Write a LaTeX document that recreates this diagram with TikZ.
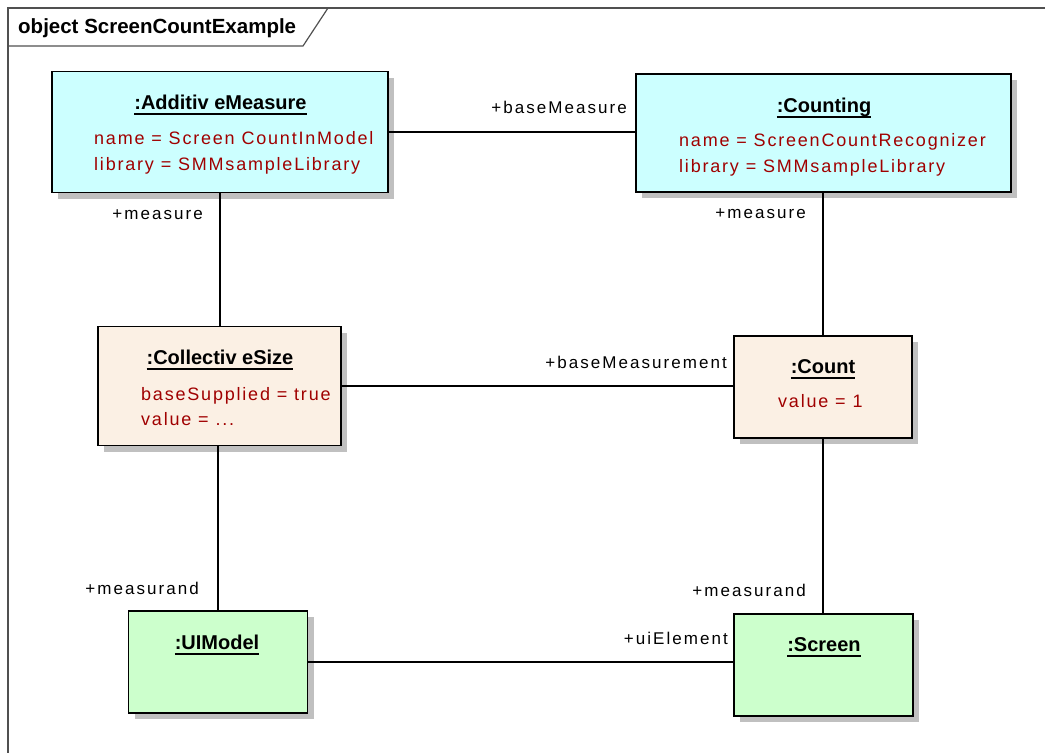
\documentclass[tikz,border=0pt]{standalone}
\usepackage{fontspec}
\setmainfont{Liberation Sans}
\usetikzlibrary{shadows}

\definecolor{objcyan}{HTML}{CCFFFF}
\definecolor{objbeige}{HTML}{FBF0E4}
\definecolor{objgreen}{HTML}{CCFFCC}
\definecolor{shadowgray}{HTML}{C0C0C0}
\definecolor{attrred}{RGB}{160,0,0}
\definecolor{framegray}{HTML}{505050}

% underlined object name, thick rule just below the baseline
\newcommand\objname[1]{\setbox0\hbox{#1}\rlap{\vrule height -3.5pt depth 5.5pt width \wd0}\box0}

\tikzset{
  objbox/.style={draw=black, line width=1.7pt, rectangle, inner sep=0pt,
    drop shadow={shadow xshift=6pt, shadow yshift=-6pt, fill=shadowgray, opacity=1}},
  titletext/.style={font=\fontsize{20}{22}\selectfont\bfseries, inner sep=0pt, anchor=base},
  attrtext/.style={font=\fontsize{18}{20}\selectfont\addfontfeature{LetterSpace=10}, text=attrred, inner sep=0pt, anchor=base west},
  roletext/.style={font=\fontsize{17}{20}\selectfont\addfontfeature{LetterSpace=12}, inner sep=0pt, anchor=base east},
  link/.style={draw=black, line width=1.8pt},
}

\begin{document}
\begin{tikzpicture}[x=1pt, y=-1pt]
\useasboundingbox (0,0) rectangle (1045,753);

% diagram frame with name tab
\draw[framegray, line width=1.5pt] (1045,8) -- (8,8) -- (8,753);
\draw[framegray, line width=1.2pt] (8,46) -- (303,46) -- (328,8);
\node[font=\fontsize{20.5}{22}\selectfont\bfseries, inner sep=0pt, anchor=base west] (frametitle) at (18,33) {object ScreenCountExample};

% object boxes
\node[objbox, fill=objcyan, minimum width=336pt, minimum height=121pt] (am) at (220,132) {};
\node[objbox, fill=objcyan, minimum width=375pt, minimum height=118pt] (ct) at (823.5,133) {};
\node[objbox, fill=objbeige, minimum width=243pt, minimum height=119pt] (cs) at (219.5,386) {};
\node[objbox, fill=objbeige, minimum width=178pt, minimum height=102pt] (cn) at (823,387) {};
\node[objbox, fill=objgreen, minimum width=179pt, minimum height=102pt] (ui) at (218,662) {};
\node[objbox, fill=objgreen, minimum width=179pt, minimum height=102pt] (sc) at (823.5,665) {};

% object names
\node[titletext] (amname) at (220.5,109) {\objname{:Additiv eMeasure}};
\node[titletext] (ctname) at (824,112) {\objname{:Counting}};
\node[titletext] (csname) at (220,364) {\objname{:Collectiv eSize}};
\node[titletext] (cnname) at (823,373) {\objname{:Count}};
\node[titletext] (uiname) at (217,649) {\objname{:UIModel}};
\node[titletext] (scname) at (824,651) {\objname{:Screen}};

% attribute values
\node[attrtext] (amattr1) at (94,144) {name = Screen CountInModel};
\node[attrtext] (amattr2) at (94,170) {library = SMMsampleLibrary};
\node[attrtext] (ctattr1) at (679,146) {name = ScreenCountRecognizer};
\node[attrtext] (ctattr2) at (679,172) {library = SMMsampleLibrary};
\node[attrtext] (csattr1) at (141,400) {baseSupplied = true};
\node[attrtext] (csattr2) at (141,425) {value = ...};
\node[attrtext] (cnattr1) at (778,407) {value = 1};

% links
\draw[link] (am.east) -- (am.east -| ct.west);
\draw[link] (am.south) -- (am.south |- cs.north);
\draw[link] (cn.north |- ct.south) -- (cn.north);
\draw[link] (cs.east) -- (cs.east -| cn.west);
\draw[link] (ui.north |- cs.south) -- (ui.north);
\draw[link] (cn.south) -- (cn.south |- sc.north);
\draw[link] (ui.east) -- (ui.east -| sc.west);

% role names
\node[roletext] (r1) at (627,113) {+baseMeasure};
\node[roletext] (r2) at (203,219) {+measure};
\node[roletext] (r3) at (806,218) {+measure};
\node[roletext] (r4) at (727,368) {+baseMeasurement};
\node[roletext] (r5) at (199,594) {+measurand};
\node[roletext] (r6) at (806,596) {+measurand};
\node[roletext] (r7) at (728,644) {+uiElement};
\end{tikzpicture}
\end{document}
